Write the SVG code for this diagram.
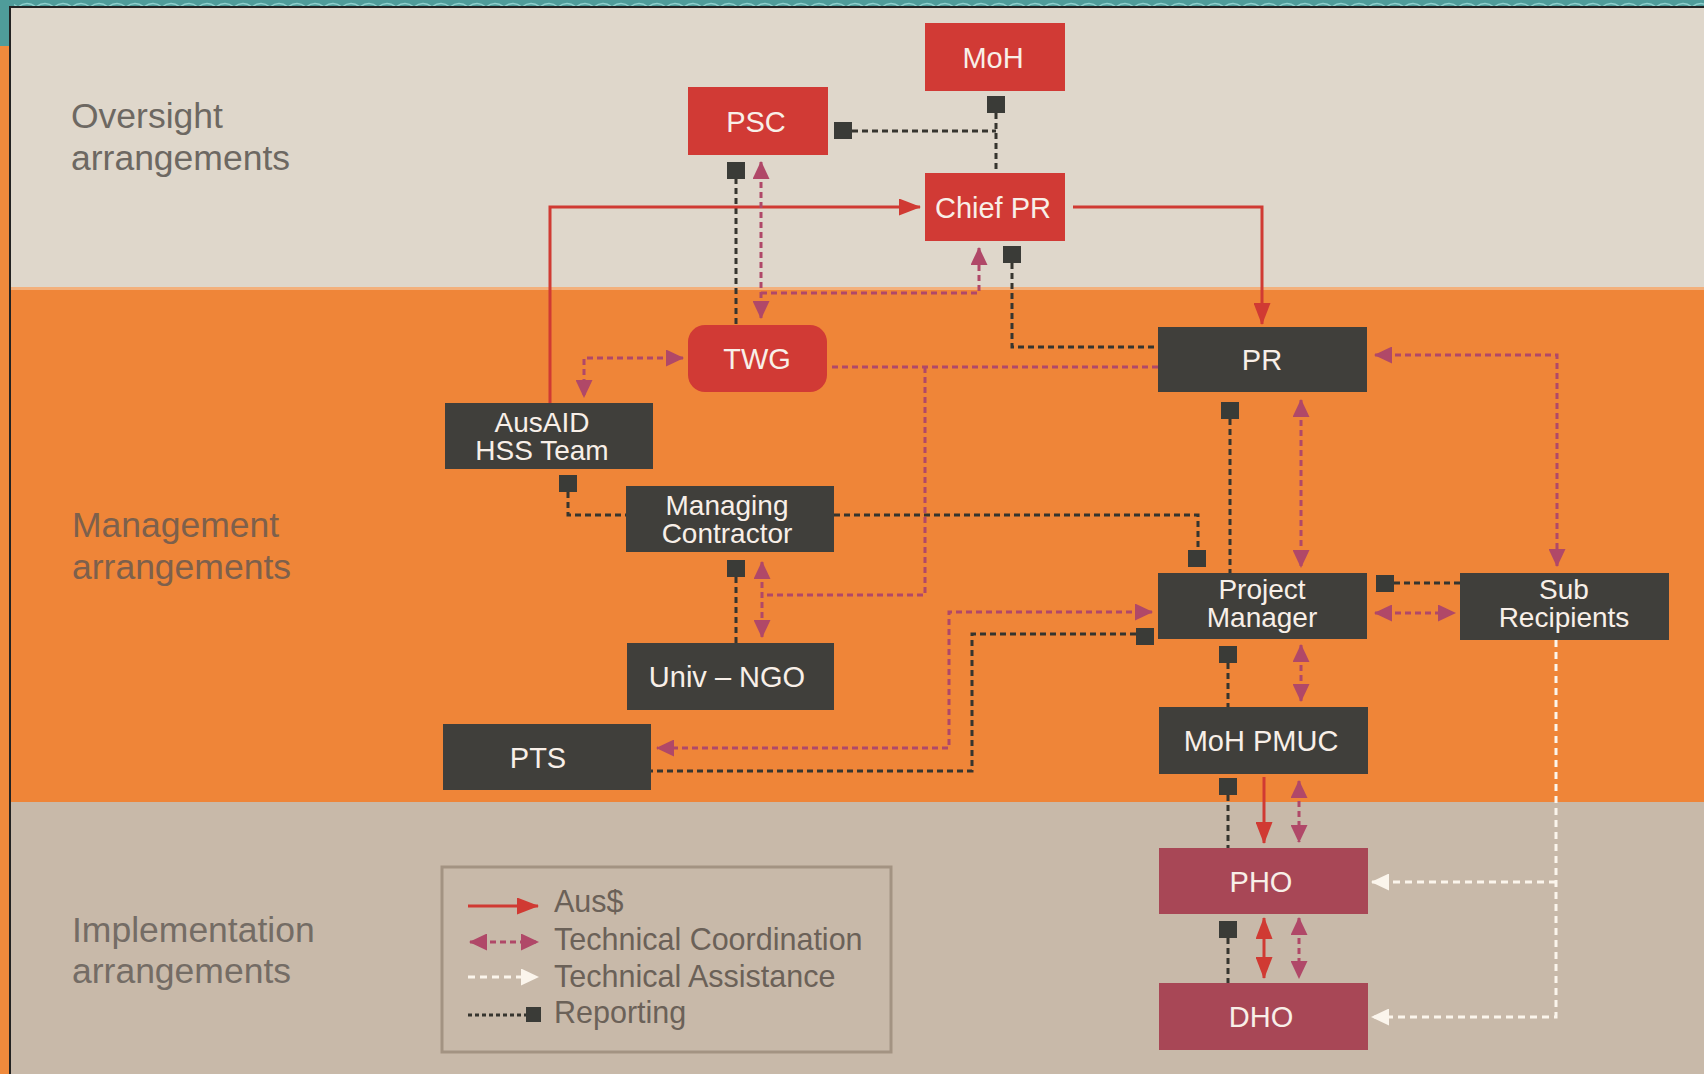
<svg xmlns="http://www.w3.org/2000/svg" width="1704" height="1074" viewBox="0 0 1704 1074">
<style>
.lbl{font-family:"Liberation Sans",Arial,sans-serif;font-size:35.5px}
.nt{font-family:"Liberation Sans",Arial,sans-serif;font-size:29px;fill:#f8efe8;text-anchor:middle}
.nt2{font-family:"Liberation Sans",Arial,sans-serif;font-size:28px;fill:#f8efe8;text-anchor:middle}
.red{fill:#d13a35}
.dark{fill:#403f3b}
.plum{fill:#a84756}
.rep{fill:none;stroke:#36352f;stroke-width:3;stroke-dasharray:6 4}
.sq{fill:#3a3b37}
.aus{fill:none;stroke:#d03a33;stroke-width:3}
.tc{fill:none;stroke:#b04868;stroke-width:3;stroke-dasharray:6 4}
.ta{fill:none;stroke:#fbf5ec;stroke-width:3;stroke-dasharray:7 5}
.leg{font-family:"Liberation Sans",Arial,sans-serif;font-size:30.5px;fill:#6b6158}
</style>
<defs>
<marker id="mAus" viewBox="0 0 22 17" markerWidth="22" markerHeight="17" refX="21" refY="8.5" orient="auto-start-reverse" markerUnits="userSpaceOnUse"><path d="M0,0 L22,8.5 L0,17 z" fill="#d03a33"/></marker>
<marker id="mTC" viewBox="0 0 18 17" markerWidth="18" markerHeight="17" refX="17" refY="8.5" orient="auto-start-reverse" markerUnits="userSpaceOnUse"><path d="M0,0 L18,8.5 L0,17 z" fill="#b04868"/></marker>
<marker id="mTA" viewBox="0 0 18 17" markerWidth="18" markerHeight="17" refX="17" refY="8.5" orient="auto-start-reverse" markerUnits="userSpaceOnUse"><path d="M0,0 L18,8.5 L0,17 z" fill="#fbf5ec"/></marker>
<pattern id="waves" patternUnits="userSpaceOnUse" width="36" height="8"><rect width="36" height="8" fill="#4f9c9a"/><path d="M0,7 Q9,0 18,7 Q27,0 36,7" fill="none" stroke="#8ed0cd" stroke-width="1.5"/></pattern>
</defs>

<!-- frame and bands -->
<rect x="0" y="0" width="1704" height="1074" fill="#f08a3c"/>
<rect x="0" y="0" width="1704" height="7" fill="url(#waves)"/>
<path d="M0,0 H14 V8 Q9,10 9,22 V46 H0 Z" fill="#4f9c9a"/>
<rect x="9" y="6" width="1695" height="1068" fill="#222"/>
<rect x="11" y="8" width="1693" height="280" fill="#dfd7cb"/>
<rect x="11" y="287" width="1693" height="3" fill="#f3b07c"/>
<rect x="11" y="290" width="1693" height="512" fill="#ef8538"/>
<rect x="11" y="802" width="1693" height="272" fill="#c8b9a9"/>

<g id="band-labels">
<text class="lbl" x="71" y="128" fill="#6d6862">Oversight</text>
<text class="lbl" x="71" y="170" fill="#6d6862">arrangements</text>
<text class="lbl" x="72" y="537" fill="#7d604c">Management</text>
<text class="lbl" x="72" y="579" fill="#7d604c">arrangements</text>
<text class="lbl" x="72" y="942" fill="#746c65">Implementation</text>
<text class="lbl" x="72" y="983" fill="#746c65">arrangements</text>
</g>

<g id="connectors">
<!-- reporting -->
<path class="rep" d="M996,113 V173"/>
<path class="rep" d="M852,131 H996"/>
<path class="rep" d="M736,178 V325"/>
<path class="rep" d="M1012,263 V347 H1158"/>
<path class="rep" d="M568,492 V515 H626"/>
<path class="rep" d="M736,577 V643"/>
<path class="rep" d="M834,515 H1198 V550"/>
<path class="rep" d="M1230,419 V573"/>
<path class="rep" d="M1394,583 H1460"/>
<path class="rep" d="M1136,634 H972 V771 H651"/>
<path class="rep" d="M1228,663 V707"/>
<path class="rep" d="M1228,795 V848"/>
<path class="rep" d="M1228,938 V983"/>
<rect class="sq" x="987" y="96" width="18" height="17"/>
<rect class="sq" x="834" y="122" width="18" height="17"/>
<rect class="sq" x="727" y="162" width="18" height="17"/>
<rect class="sq" x="1003" y="246" width="18" height="17"/>
<rect class="sq" x="559" y="475" width="18" height="17"/>
<rect class="sq" x="727" y="560" width="18" height="17"/>
<rect class="sq" x="1188" y="550" width="18" height="17"/>
<rect class="sq" x="1221" y="402" width="18" height="17"/>
<rect class="sq" x="1376" y="575" width="18" height="17"/>
<rect class="sq" x="1136" y="628" width="18" height="17"/>
<rect class="sq" x="1219" y="646" width="18" height="17"/>
<rect class="sq" x="1219" y="778" width="18" height="17"/>
<rect class="sq" x="1219" y="921" width="18" height="17"/>
<!-- Aus$ -->
<path class="aus" d="M550,403 V207 H920" marker-end="url(#mAus)"/>
<path class="aus" d="M1073,207 H1262 V324" marker-end="url(#mAus)"/>
<path class="aus" d="M1264,777 V843" marker-end="url(#mAus)"/>
<path class="aus" d="M1264,918 V978" marker-start="url(#mAus)" marker-end="url(#mAus)"/>
<!-- technical coordination -->
<path class="tc" d="M761,162 V318" marker-start="url(#mTC)" marker-end="url(#mTC)"/>
<path class="tc" d="M761,293 H979 V248" marker-end="url(#mTC)"/>
<path class="tc" d="M683,358 H584 V397" marker-start="url(#mTC)" marker-end="url(#mTC)"/>
<path class="tc" d="M832,367 H1158"/>
<path class="tc" d="M925,367 V595 H762"/>
<path class="tc" d="M762,562 V637" marker-start="url(#mTC)" marker-end="url(#mTC)"/>
<path class="tc" d="M1375,355 H1557 V566" marker-start="url(#mTC)" marker-end="url(#mTC)"/>
<path class="tc" d="M1301,400 V567" marker-start="url(#mTC)" marker-end="url(#mTC)"/>
<path class="tc" d="M1375,613 H1455" marker-start="url(#mTC)" marker-end="url(#mTC)"/>
<path class="tc" d="M1152,612 H949 V748 H657" marker-start="url(#mTC)" marker-end="url(#mTC)"/>
<path class="tc" d="M1301,645 V701" marker-start="url(#mTC)" marker-end="url(#mTC)"/>
<path class="tc" d="M1299,781 V842" marker-start="url(#mTC)" marker-end="url(#mTC)"/>
<path class="tc" d="M1299,918 V978" marker-start="url(#mTC)" marker-end="url(#mTC)"/>
<!-- technical assistance -->
<path class="ta" d="M1556,640 V1017 H1372" marker-end="url(#mTA)"/>
<path class="ta" d="M1556,882 H1372" marker-end="url(#mTA)"/>
</g>

<g id="node-moh"><rect class="red" x="925" y="23" width="140" height="68"/><text class="nt" x="993" y="68">MoH</text></g>
<g id="node-psc"><rect class="red" x="688" y="87" width="140" height="68"/><text class="nt" x="756" y="132">PSC</text></g>
<g id="node-chiefpr"><rect class="red" x="925" y="173" width="140" height="68"/><text class="nt" x="993" y="218">Chief PR</text></g>
<g id="node-twg"><rect class="red" x="688" y="325" width="139" height="67" rx="17"/><text class="nt" x="757" y="369">TWG</text></g>
<g id="node-ausaid"><rect class="dark" x="445" y="403" width="208" height="66"/><text class="nt2" x="542" y="432">AusAID</text><text class="nt2" x="542" y="460">HSS Team</text></g>
<g id="node-mc"><rect class="dark" x="626" y="486" width="208" height="66"/><text class="nt2" x="727" y="515">Managing</text><text class="nt2" x="727" y="543">Contractor</text></g>
<g id="node-univ"><rect class="dark" x="627" y="643" width="207" height="67"/><text class="nt" x="727" y="687">Univ – NGO</text></g>
<g id="node-pts"><rect class="dark" x="443" y="724" width="208" height="66"/><text class="nt" x="538" y="768">PTS</text></g>
<g id="node-pr"><rect class="dark" x="1158" y="327" width="209" height="65"/><text class="nt" x="1262" y="370">PR</text></g>
<g id="node-pm"><rect class="dark" x="1158" y="573" width="209" height="66"/><text class="nt2" x="1262" y="599">Project</text><text class="nt2" x="1262" y="627">Manager</text></g>
<g id="node-sr"><rect class="dark" x="1460" y="573" width="209" height="67"/><text class="nt2" x="1564" y="599">Sub</text><text class="nt2" x="1564" y="627">Recipients</text></g>
<g id="node-pmuc"><rect class="dark" x="1159" y="707" width="209" height="67"/><text class="nt" x="1261" y="751">MoH PMUC</text></g>
<g id="node-pho"><rect class="plum" x="1159" y="848" width="209" height="66"/><text class="nt" x="1261" y="892">PHO</text></g>
<g id="node-dho"><rect class="plum" x="1159" y="983" width="209" height="67"/><text class="nt" x="1261" y="1027">DHO</text></g>

<g id="legend">
<rect x="442" y="867" width="449" height="185" fill="none" stroke="#a39382" stroke-width="3"/>
<path class="aus" d="M468,906 H538" marker-end="url(#mAus)"/>
<path class="tc" d="M470,942 H538" marker-start="url(#mTC)" marker-end="url(#mTC)"/>
<path class="ta" d="M468,977 H538" marker-end="url(#mTA)"/>
<path class="rep" d="M468,1015 H528" style="stroke-dasharray:4 3"/>
<rect class="sq" x="526" y="1007" width="15" height="15"/>
<text class="leg" x="554" y="912">Aus$</text>
<text class="leg" x="554" y="950">Technical Coordination</text>
<text class="leg" x="554" y="987">Technical Assistance</text>
<text class="leg" x="554" y="1023">Reporting</text>
</g>
</svg>
